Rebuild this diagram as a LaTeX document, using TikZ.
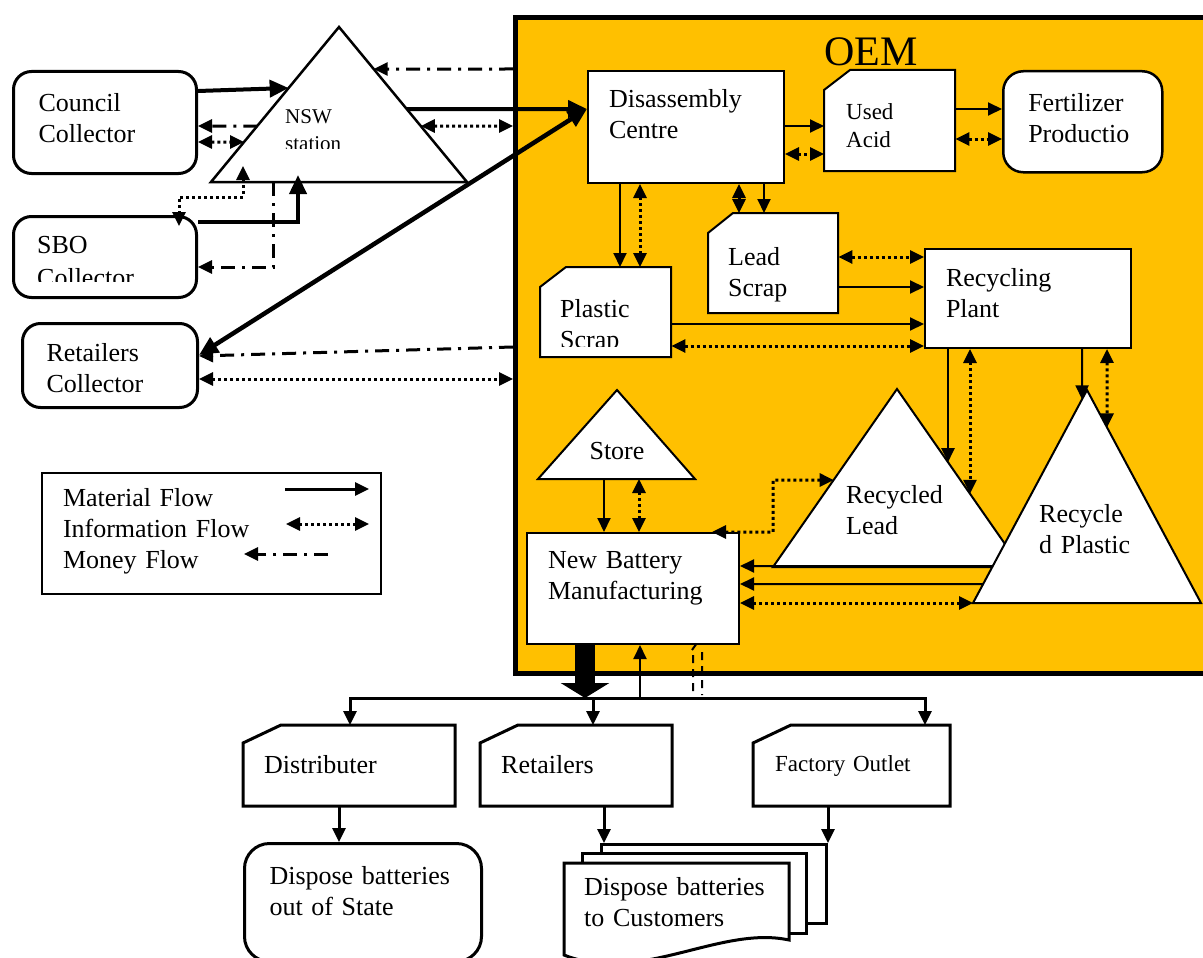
\documentclass[tikz,border=0pt]{standalone}
\usepackage{fontspec}
\setmainfont{Liberation Serif}
\usetikzlibrary{arrows.meta}
\usetikzlibrary{calc}
\definecolor{oemgold}{RGB}{255,192,0}
\tikzset{>={Triangle[length=14pt,width=13pt]}}
\tikzset{
	% boxes with their text in the top left corner
	txtbox/.style={anchor=north west, align=left, inner xsep=21pt, inner ysep=0pt, text height=36pt},
	plainbox/.style={txtbox, draw, fill=white, line width=2pt},
	roundbox/.style={txtbox, draw, fill=white, line width=3pt, rounded corners=18pt},
	% text lines placed by their baseline
	linetxt/.style={anchor=base west, align=left, inner sep=0pt},
	% shapes drawn as paths
	cardline/.style={draw, fill=white, line width=2pt},
	triline/.style={draw, fill=white, line width=2pt},
	% the three flows
	mat/.style={line width=2pt, ->},
	bigmat/.style={line width=4pt, -{Triangle[length=19pt,width=17pt]}},
	info/.style={line width=3pt, dash pattern=on 3pt off 3pt, <->},
	money/.style={line width=3pt, dash pattern=on 14pt off 7pt on 3pt off 7pt, ->},
}
\begin{document}
\begin{tikzpicture}[x=1pt, y=-1pt, font=\fontsize{26}{31}\selectfont]
\useasboundingbox (0,0) rectangle (1203,958);
% the OEM area
\node[draw, fill=oemgold, line width=5pt, anchor=north west, minimum width=720pt, minimum height=655pt, inner sep=0pt] (oembox) at (513,15.5) {};
\node[font=\fontsize{42}{46}\selectfont, anchor=base] (oem) at (871,66) {OEM};

% collectors
\node[roundbox, inner xsep=25pt, text width=133pt, text height=40pt, text depth=62pt] (council) at (12,70) {Council\\Collector};
\node[roundbox, minimum width=183pt, minimum height=81pt] (sbo) at (12,215) {};
\begin{scope}
\clip (12,215) rectangle (195,281);
\node[linetxt, text width=140pt] (sbotext) at (37,253) {SBO\\[2pt]Collector};
\end{scope}
\node[roundbox, inner xsep=24pt, text width=127pt, text height=38pt, text depth=46pt] (rcol) at (21,322) {Retailers\\Collector};

% NSW station
\coordinate (nswA) at (339,27);
\coordinate (nswL) at (211,182);
\coordinate (nswR) at (467,182);
\filldraw[triline, line width=2.5pt] (nswA) -- (nswL) -- (nswR) -- cycle;
\begin{scope}
\clip (211,27) rectangle (467,148);
\node[linetxt, text width=80pt, font=\fontsize{21}{27}\selectfont] (nsw) at (285,124) {NSW\\station};
\end{scope}

% legend
\node[plainbox, text width=297pt, text height=33pt, text depth=88pt] (leg) at (41,472) {Material Flow\\Information Flow\\Money Flow};
\draw[line width=3pt, ->] ($(leg.north west)+(244,17)$) -- ($(leg.north west)+(328,17)$);
\draw[info] ($(leg.north west)+(245,52)$) -- ($(leg.north west)+(328,52)$);
\draw[money] ($(leg.north west)+(287,82)$) -- ($(leg.north west)+(203,82)$);

% inside the OEM
\node[plainbox, text width=154pt, text depth=76pt] (dis) at (587,70) {Disassembly\\Centre};
\filldraw[cardline] (824,90) -- (850,70) -- (955,70) -- (955,171) -- (824,171) -- cycle;
\node[txtbox, font=\fontsize{23}{28}\selectfont, inner xsep=22pt, text width=87pt, text height=49pt, text depth=52pt] (acid) at (824,70) {Used\\Acid};
\node[roundbox, line width=2.5pt, rounded corners=20pt, inner xsep=25pt, text width=109pt, text height=40pt, text depth=61pt] (fert) at (1002,70) {Fertilizer\\Productio};
\filldraw[cardline] (708,233) -- (733,213) -- (838,213) -- (838,313) -- (708,313) -- cycle;
\node[txtbox, inner xsep=20pt, text width=90pt, text height=52pt, text depth=48pt] (lead) at (708,213) {Lead\\Scrap};
\filldraw[cardline] (540,287) -- (566,267) -- (671,267) -- (671,357) -- (540,357) -- cycle;
\node[txtbox, minimum width=131pt, minimum height=90pt] (plastic) at (540,267) {};
\begin{scope}
\clip (540,267) rectangle (671,346);
\node[linetxt, text width=100pt] (plastictext) at (560,317) {Plastic\\Scrap};
\end{scope}
\node[plainbox, text width=164pt, text height=37pt, text depth=62pt] (recy) at (924,248) {Recycling\\Plant};

% the three stores
\coordinate (storeA) at (617,390);
\coordinate (storeL) at (538,479);
\coordinate (storeR) at (695,479);
\filldraw[triline] (storeA) -- (storeL) -- (storeR) -- cycle;
\node[anchor=base] (store) at (617,459) {Store};
\coordinate (rlA) at (897,389);
\coordinate (rlL) at (773,567);
\coordinate (rlR) at (1021,567);
\filldraw[triline] (rlA) -- (rlL) -- (rlR) -- cycle;
\node[linetxt, text width=120pt] (rlead) at (846,503) {Recycled\\Lead};
\coordinate (rpA) at (1087,390);
\coordinate (rpL) at (973,603);
\coordinate (rpR) at (1201,603);
\filldraw[triline] (rpA) -- (rpL) -- (rpR) -- cycle;
\node[linetxt, text width=100pt] (rplastic) at (1039,522) {Recycle\\d Plastic};

\node[plainbox, text width=170pt, text height=35pt, text depth=76pt] (nbm) at (526,532) {New Battery\\Manufacturing};

% the outlets
\filldraw[cardline, line width=3pt] (243,743) -- (281,725) -- (455,725) -- (455,806) -- (243,806) -- cycle;
\node[txtbox, text width=170pt, text height=48pt, text depth=33pt] (dist) at (243,725) {Distributer};
\filldraw[cardline, line width=3pt] (480,743) -- (518,725) -- (672,725) -- (672,806) -- (480,806) -- cycle;
\node[txtbox, text width=150pt, text height=48pt, text depth=33pt] (ret) at (480,725) {Retailers};
\filldraw[cardline, line width=3pt] (753,743) -- (791,725) -- (950,725) -- (950,806) -- (753,806) -- cycle;
\node[txtbox, font=\fontsize{23}{28}\selectfont, inner xsep=22pt, text width=153pt, text height=46pt, text depth=35pt] (fac) at (753,725) {Factory Outlet};

% disposal
\node[roundbox, rounded corners=25pt, inner xsep=25pt, text width=187pt, text height=41pt, text depth=77pt] (disp1) at (243,842) {Dispose batteries\\out of State};
\node[draw, fill=white, line width=3pt, anchor=north west, minimum width=225pt, minimum height=79pt, inner sep=0pt] (stack) at (600,843) {};
\node[draw, fill=white, line width=3pt, anchor=north west, minimum width=224pt, minimum height=80pt, inner sep=0pt] (stackmid) at (581,852) {};
\filldraw[line width=3pt, fill=white] (564,863) -- (789,863) -- (789,940) .. controls (720,925) and (640,985) .. (564,955) -- cycle;
\node[linetxt, text width=200pt] (disp2) at (584,895) {Dispose batteries\\to Customers};

% flows of the collectors
\draw[bigmat] (council.east |- 0,91) -- (intersection of nswA--nswL and 0,88--10,88);
\draw[money] (intersection of nswA--nswL and 0,126--10,126) -- (council.east |- 0,126);
\draw[info] (council.east |- 0,142) -- (intersection of nswA--nswL and 0,142--10,142);
\draw[bigmat] (sbo.east |- 0,222) -| ($(nswL)!0.34!(nswR)+(0,-7)$);
\draw[info] ($(nswL)!0.125!(nswR)+(0,-16)$) -- ++(0,31) -| ([xshift=-19pt,yshift=-11pt]sbo.north east);
\draw[money] ($(nswL)!0.246!(nswR)$) |- (sbo.east |- 0,267);
\draw[bigmat] (intersection of nswA--nswR and 0,109--10,109) -- (dis.west |- 0,109);
\draw[money] (oembox.west |- 0,69) -- (intersection of nswA--nswR and 0,69--10,69);
\draw[info] (intersection of nswA--nswR and 0,126--10,126) -- (oembox.west |- 0,126);
\draw[line width=4.5pt, {Triangle[length=19pt,width=17pt]}-{Triangle[length=19pt,width=17pt]}] (rcol.east |- 0,355) -- (dis.west |- 0,109);
\draw[money] (oembox.west |- 0,347) -- (rcol.east |- 0,356);
\draw[info] (rcol.east |- 0,379) -- (oembox.west |- 0,379);

% flows inside the OEM
\draw[mat] (dis.east |- 0,126) -- (acid.west |- 0,126);
\draw[info] (dis.east |- 0,154) -- (acid.west |- 0,154);
\draw[mat] (acid.east |- 0,109) -- (fert.west |- 0,109);
\draw[info] (acid.east |- 0,139) -- (fert.west |- 0,139);
\draw[mat] (dis.south -| 620,0) -- (plastic.north -| 620,0);
\draw[info] (dis.south -| 640,0) -- (plastic.north -| 640,0);
\draw[info] (dis.south -| 739,0) -- (lead.north -| 739,0);
\draw[mat] (dis.south -| 764,0) -- (lead.north -| 764,0);
\draw[info] (lead.east |- 0,257) -- (recy.west |- 0,257);
\draw[mat] (lead.east |- 0,287) -- (recy.west |- 0,287);
\draw[mat] (plastic.east |- 0,324) -- (recy.west |- 0,324);
\draw[info] (plastic.east |- 0,346) -- (recy.west |- 0,346);
\draw[mat] (recy.south -| 948,0) -- (intersection of rlA--rlR and 948,0--948,10);
\draw[info] (recy.south -| 970,0) -- (intersection of rlA--rlR and 970,0--970,10);
\draw[mat] (recy.south -| 1082,0) -- (intersection of rpA--rpL and 1082,0--1082,10);
\draw[info] (recy.south -| 1107,0) -- (intersection of rpA--rpR and 1107,0--1107,10);
\draw[mat] (storeL -| 604,0) -- (nbm.north -| 604,0);
\draw[info] (storeL -| 639,0) -- (nbm.north -| 639,0);
\draw[info] ([xshift=-28pt]nbm.north east) -| (773,480) -- (intersection of rlA--rlL and 0,480--10,480);
\draw[mat] (intersection of rpA--rpL and 0,566--10,566) -- (nbm.east |- 0,566);
\draw[mat] (intersection of rpA--rpL and 0,584--10,584) -- (nbm.east |- 0,584);
\draw[info] (rpL) -- (nbm.east |- 0,603);

% out to the outlets
\coordinate (hub) at (585,698);
\draw[line width=20pt, -{Triangle[length=15pt,width=48pt]}] (nbm.south -| hub) -- (hub);
\draw[line width=3pt, ->] (hub) -| ([xshift=107pt]dist.north west);
\draw[line width=3pt, ->] (hub) -| (ret.north -| 593,0);
\draw[line width=3pt, ->] (hub) -| (fac.north -| 925,0);
\draw[mat] (hub -| 640,0) -- (nbm.south -| 640,0);
\draw[line width=2pt, dash pattern=on 8pt off 6pt] (693,655) -- (693,695) (702,652) -- (702,695) (692,650) -- (697,643);
\draw[line width=3pt, ->] (dist.south -| 339,0) -- (disp1.north -| 339,0);
\draw[line width=3pt, ->] (ret.south -| 604,0) -- (stack.north -| 604,0);
\draw[line width=3pt, ->] (fac.south -| stack.north east) -- (stack.north east);
\end{tikzpicture}
\end{document}
